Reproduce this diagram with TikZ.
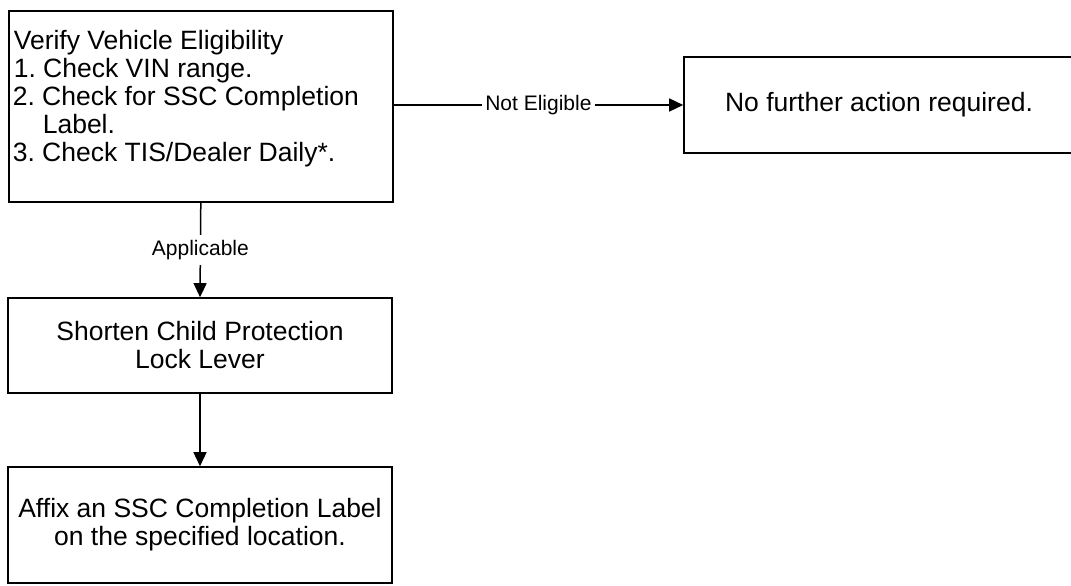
\documentclass[tikz,border=0pt]{standalone}
\usepackage{fontspec}
\setmainfont{Liberation Sans}
\usetikzlibrary{arrows.meta}
\frenchspacing
\tikzset{
  box/.style={draw, line width=1.6pt, rectangle, inner sep=0pt, font=\fontsize{26.5}{28}\selectfont},
  conn/.style={line width=1.5pt, -{Triangle[length=14pt,width=13pt]}},
  lab/.style={fill=white, inner xsep=3pt, inner ysep=5pt, font=\fontsize{21}{23}\selectfont}
}
\begin{document}
\begin{tikzpicture}[x=1pt,y=-1pt]
\path[use as bounding box, clip] (0,0) rectangle (1071,586);
\fill[white] (0,0) rectangle (1071,586);
\node[box, anchor=north west] (v) at (8,10) {\parbox[c][191pt][t]{384pt}{\fontsize{26.5}{28}\selectfont\frenchspacing\vspace*{19pt}\raggedright
\hspace*{5pt}Verify Vehicle Eligibility\\
\hspace*{5pt}1. Check VIN range.\\
\hspace*{4pt}2. Check for SSC Completion\\
\hspace*{34pt}Label.\\
\hspace*{4pt}3. Check TIS/Dealer Daily*.}};
\node[box, minimum width=390pt, minimum height=96pt] (n) at (879,105) {No further action required.};
\node[box, minimum width=384pt, minimum height=95pt, align=center] (s) at (200,345.5) {Shorten Child Protection\\Lock Lever};
\node[box, minimum width=384pt, minimum height=116pt, align=center] (a) at (200,525) {Affix an SSC Completion Label\\on the specified location.};
\draw[conn] (v.east |- n.west) -- node[lab] {Not Eligible} (n.west);
\draw[conn] (v.south) -- node[lab] {Applicable} (s.north);
\draw[conn] (s.south) -- (a.north);
\end{tikzpicture}
\end{document}
